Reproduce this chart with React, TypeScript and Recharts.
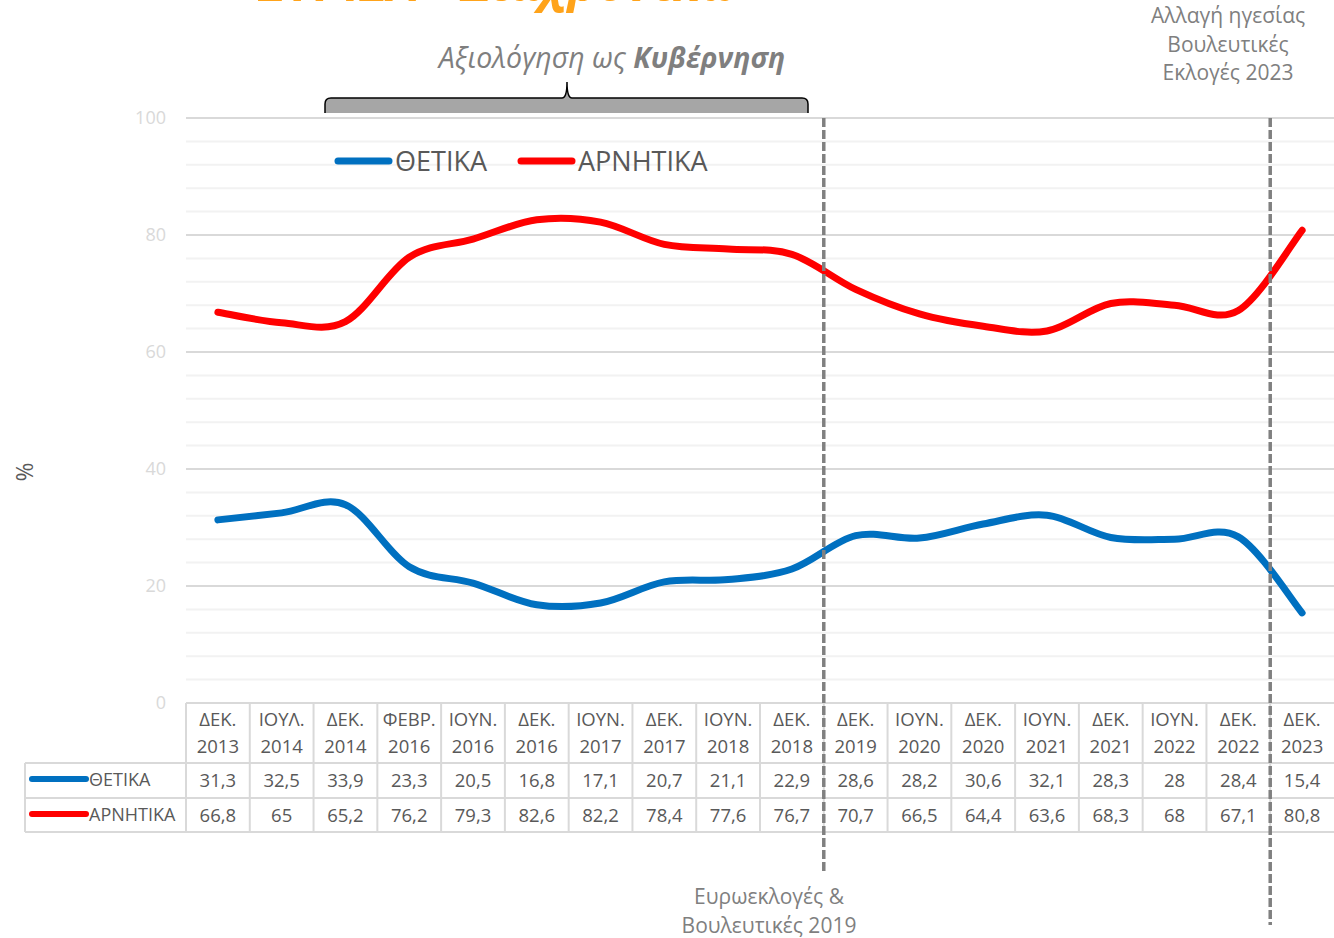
import { LineChart, Line, XAxis, YAxis, CartesianGrid } from 'recharts'

const months = ['ΔΕΚ.', 'ΙΟΥΛ.', 'ΔΕΚ.', 'ΦΕΒΡ.', 'ΙΟΥΝ.', 'ΔΕΚ.', 'ΙΟΥΝ.', 'ΔΕΚ.', 'ΙΟΥΝ.', 'ΔΕΚ.', 'ΔΕΚ.', 'ΙΟΥΝ.', 'ΔΕΚ.', 'ΙΟΥΝ.', 'ΔΕΚ.', 'ΙΟΥΝ.', 'ΔΕΚ.', 'ΔΕΚ.']
const years = ['2013', '2014', '2014', '2016', '2016', '2016', '2017', '2017', '2018', '2018', '2019', '2020', '2020', '2021', '2021', '2022', '2022', '2023']
const positive = [31.3, 32.5, 33.9, 23.3, 20.5, 16.8, 17.1, 20.7, 21.1, 22.9, 28.6, 28.2, 30.6, 32.1, 28.3, 28, 28.4, 15.4]
const negative = [66.8, 65, 65.2, 76.2, 79.3, 82.6, 82.2, 78.4, 77.6, 76.7, 70.7, 66.5, 64.4, 63.6, 68.3, 68, 67.1, 80.8]
const majorTicks = [0, 20, 40, 60, 80, 100]
const minorTicks = [0, 4, 8, 12, 16, 20, 24, 28, 32, 36, 40, 44, 48, 52, 56, 60, 64, 68, 72, 76, 80, 84, 88, 92, 96, 100]

const seriesNames = ['ΘΕΤΙΚΑ', 'ΑΡΝΗΤΙΚΑ']
const seriesColors = ['#0070C0', '#FF0000']

const data = months.map((m, i) => ({
  name: `${m} ${years[i]}`,
  positive: positive[i],
  negative: negative[i]
}))

// layout
const W = 1334
const H = 938
const plotLeft = 186
const plotTop = 118
const plotBottom = 703
const band = (W - plotLeft) / months.length
const font = '"Open Sans", sans-serif'
const textGray = '#595959'
const noteGray = '#7f7f7f'
const border = '#d9d9d9'

const fmt = (v: number) => String(v).replace('.', ',')

// spreadsheet-style smoothed line (uniform Catmull-Rom as cubic beziers)
const smoothCurve: any = (context: any) => {
  let pts: number[][] = []
  return {
    areaStart() {},
    areaEnd() {},
    lineStart() { pts = [] },
    point(x: number, y: number) { pts.push([+x, +y]) },
    lineEnd() {
      const n = pts.length
      if (!n) return
      context.moveTo(pts[0][0], pts[0][1])
      for (let i = 0; i < n - 1; i++) {
        const p0 = pts[Math.max(0, i - 1)]
        const p1 = pts[i]
        const p2 = pts[i + 1]
        const p3 = pts[Math.min(n - 1, i + 2)]
        context.bezierCurveTo(
          p1[0] + (p2[0] - p0[0]) / 6, p1[1] + (p2[1] - p0[1]) / 6,
          p2[0] - (p3[0] - p1[0]) / 6, p2[1] - (p3[1] - p1[1]) / 6,
          p2[0], p2[1]
        )
      }
    }
  }
}

function Overlay() {
  const rowY = [plotBottom, 763, 798, 832]
  const colX = (i: number) => plotLeft + i * band
  const dash1 = colX(10)
  const dash2 = colX(17)
  return (
    <svg width={W} height={H} style={{ position: 'absolute', left: 0, top: 0, pointerEvents: 'none' }}>
      {/* title, cut off at the top like the source */}
      <text x={495} y={1} textAnchor="middle" fontFamily={font} fontSize={50} fontWeight={700} fontStyle="italic" fill="#FFA31A">
        ΣΥΡΙΖΑ - Διαχρονικά
      </text>

      {/* bracket */}
      <path
        d="M325,113 L325,104 Q325,98 331,98 L562,98 Q567,98 567,82 Q567,98 572,98 L802,98 Q808,98 808,104 L808,113 Z"
        fill="#a6a6a6"
        stroke="none"
      />
      <path
        d="M325,113 L325,104 Q325,98 331,98 L562,98 Q567,98 567,82 Q567,98 572,98 L802,98 Q808,98 808,104 L808,113"
        fill="none"
        stroke="#000"
        strokeWidth={1.5}
      />
      <text x={612} y={68} textAnchor="middle" fontFamily={font} fontSize={28.5} fontStyle="italic" fill={noteGray}>
        Αξιολόγηση ως <tspan fontWeight={700}>Κυβέρνηση</tspan>
      </text>

      {/* legend */}
      {seriesNames.map((n, i) => {
        const x0 = i === 0 ? 338 : 521
        return (
          <g key={n}>
            <line x1={x0} x2={x0 + 51} y1={161} y2={161} stroke={seriesColors[i]} strokeWidth={7} strokeLinecap="round" />
            <text x={x0 + 57} y={170.5} fontFamily={font} fontSize={27} fill={textGray}>{n}</text>
          </g>
        )
      })}

      <text transform="translate(33,472) rotate(-90)" textAnchor="middle" fontFamily={font} fontSize={23} fill={textGray}>%</text>

      {/* data table */}
      <g stroke={border} strokeWidth={2}>
        <line x1={plotLeft} x2={W} y1={rowY[0]} y2={rowY[0]} />
        {rowY.slice(1).map(y => <line key={y} x1={25} x2={W} y1={y} y2={y} />)}
        <line x1={25} x2={25} y1={rowY[1]} y2={rowY[3]} />
        {months.map((_, i) => <line key={i} x1={colX(i)} x2={colX(i)} y1={rowY[0]} y2={rowY[3]} />)}
      </g>
      <g fontFamily={font} fontSize={18.5} fill={textGray} textAnchor="middle">
        {months.map((m, i) => (
          <g key={i}>
            <text x={colX(i) + band / 2} y={726}>{m}</text>
            <text x={colX(i) + band / 2} y={753}>{years[i]}</text>
            <text x={colX(i) + band / 2} y={787}>{fmt(positive[i])}</text>
            <text x={colX(i) + band / 2} y={822}>{fmt(negative[i])}</text>
          </g>
        ))}
      </g>
      {seriesNames.map((n, i) => (
        <g key={n}>
          <line x1={32} x2={86} y1={779 + i * 35} y2={779 + i * 35} stroke={seriesColors[i]} strokeWidth={6} strokeLinecap="round" />
          <text x={89} y={786 + i * 35} fontFamily={font} fontSize={18} fill={textGray}>{n}</text>
        </g>
      ))}

      {/* event markers */}
      <line x1={dash1} x2={dash1} y1={plotTop} y2={872} stroke="#808080" strokeWidth={3.5} strokeDasharray="9 3" />
      <line x1={dash2} x2={dash2} y1={plotTop} y2={925} stroke="#808080" strokeWidth={3.5} strokeDasharray="9 3" />

      <g fontFamily={font} fontSize={21} fill={noteGray} textAnchor="middle">
        <text x={1228} y={23}>Αλλαγή ηγεσίας</text>
        <text x={1228} y={52}>Βουλευτικές</text>
        <text x={1228} y={80}>Εκλογές 2023</text>
        <text x={769} y={904}>Ευρωεκλογές &amp;</text>
        <text x={769} y={933}>Βουλευτικές 2019</text>
      </g>
    </svg>
  )
}

export default function App() {
  return (
    <div style={{ position: 'absolute', left: 0, top: 0, width: W, height: H, background: '#fff' }}>
      <LineChart
        width={W}
        height={H}
        data={data}
        margin={{ top: plotTop, right: 0, bottom: H - plotBottom, left: plotLeft - 60 }}
      >
        <YAxis
          width={60}
          domain={[0, 100]}
          ticks={majorTicks}
          axisLine={false}
          tickLine={false}
          tickSize={0}
          tickMargin={20}
          tick={{ fill: '#d9d9d9', fontSize: 18, fontFamily: font }}
        />
        <CartesianGrid vertical={false} horizontalValues={minorTicks} stroke="#f2f2f2" strokeWidth={2} />
        <CartesianGrid vertical={false} horizontalValues={majorTicks} stroke={border} strokeWidth={2} />
        <XAxis dataKey="name" hide padding={{ left: band / 2, right: band / 2 }} />
        <Line type={smoothCurve} dataKey="negative" stroke={seriesColors[1]} strokeWidth={7} strokeLinecap="round" dot={false} isAnimationActive={false} />
        <Line type={smoothCurve} dataKey="positive" stroke={seriesColors[0]} strokeWidth={7} strokeLinecap="round" dot={false} isAnimationActive={false} />
      </LineChart>
      <Overlay />
    </div>
  )
}
